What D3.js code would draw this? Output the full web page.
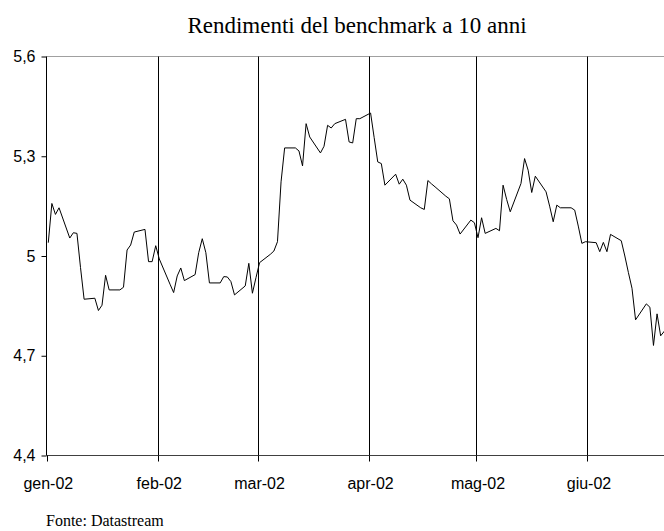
<!DOCTYPE html>
<html>
<head>
<meta charset="utf-8">
<script src="https://cdn.jsdelivr.net/npm/d3@7"></script>
<style>
  html, body { margin: 0; padding: 0; background: #fff; }
  svg { display: block; }
</style>
</head>
<body>
<script>
// ---- data ----
const title = "Rendimenti del benchmark a 10 anni";
const source = "Fonte: Datastream";

const dates = [
  "2002-01-01","2002-01-02","2002-01-03","2002-01-04","2002-01-07","2002-01-08","2002-01-09","2002-01-10","2002-01-11",
  "2002-01-14","2002-01-15","2002-01-16","2002-01-17","2002-01-18","2002-01-21","2002-01-22","2002-01-23","2002-01-24","2002-01-25",
  "2002-01-28","2002-01-29","2002-01-30","2002-01-31","2002-02-01",
  "2002-02-04","2002-02-05","2002-02-06","2002-02-07","2002-02-08","2002-02-11","2002-02-12","2002-02-13","2002-02-14","2002-02-15",
  "2002-02-18","2002-02-19","2002-02-20","2002-02-21","2002-02-22","2002-02-25","2002-02-26","2002-02-27","2002-02-28","2002-03-01",
  "2002-03-04","2002-03-05","2002-03-06","2002-03-07","2002-03-08","2002-03-11","2002-03-12","2002-03-13","2002-03-14","2002-03-15",
  "2002-03-18","2002-03-19","2002-03-20","2002-03-21","2002-03-22","2002-03-25","2002-03-26","2002-03-27","2002-03-28","2002-03-29",
  "2002-04-01","2002-04-02","2002-04-03","2002-04-04","2002-04-05","2002-04-08","2002-04-09","2002-04-10","2002-04-11","2002-04-12",
  "2002-04-15","2002-04-16","2002-04-17","2002-04-18","2002-04-19","2002-04-22","2002-04-23","2002-04-24","2002-04-25","2002-04-26",
  "2002-04-29","2002-04-30","2002-05-01","2002-05-02","2002-05-03","2002-05-06","2002-05-07","2002-05-08","2002-05-09","2002-05-10",
  "2002-05-13","2002-05-14","2002-05-15","2002-05-16","2002-05-17","2002-05-20","2002-05-21","2002-05-22","2002-05-23","2002-05-24",
  "2002-05-27","2002-05-28","2002-05-29","2002-05-30","2002-05-31","2002-06-03","2002-06-04","2002-06-05","2002-06-06","2002-06-07",
  "2002-06-10","2002-06-11","2002-06-12","2002-06-13","2002-06-14","2002-06-17","2002-06-18","2002-06-19","2002-06-20","2002-06-21",
  "2002-06-24"
];
const yields = [
  5.040,5.158,5.125,5.145,5.054,5.070,5.068,4.965,4.870,
  4.873,4.836,4.852,4.942,4.898,4.898,4.906,5.018,5.033,5.072,
  5.080,4.983,4.983,5.031,4.991,
  4.915,4.890,4.940,4.964,4.926,4.944,5.010,5.052,5.010,4.919,
  4.919,4.938,4.937,4.923,4.883,4.910,4.978,4.888,4.935,4.980,
  5.005,5.015,5.043,5.223,5.325,5.325,5.316,5.271,5.398,5.358,
  5.310,5.330,5.393,5.385,5.398,5.411,5.343,5.340,5.413,5.413,
  5.430,5.356,5.283,5.278,5.213,5.246,5.216,5.231,5.213,5.168,
  5.145,5.140,5.227,5.217,5.208,5.180,5.172,5.106,5.093,5.066,
  5.108,5.100,5.055,5.115,5.068,5.083,5.076,5.213,5.170,5.133,
  5.218,5.293,5.258,5.191,5.240,5.193,5.150,5.103,5.153,5.145,
  5.145,5.138,5.090,5.038,5.043,5.040,5.013,5.041,5.013,5.065,
  5.046,5.000,4.950,4.903,4.808,4.856,4.846,4.731,4.826,4.760,
  4.800
];
const monthStarts = ["2002-01-01","2002-02-01","2002-03-01","2002-04-01","2002-05-01","2002-06-01"];
const monthLabels = ["gen-02","feb-02","mar-02","apr-02","mag-02","giu-02"];
const yTicks = [4.4, 4.7, 5.0, 5.3, 5.6];
const yTickLabels = ["4,4","4,7","5","5,3","5,6"];
const xDomain = ["2002-01-01","2002-06-22"];
const yDomain = [4.4, 5.6];

// ---- layout ----
const W = 664, H = 531;
const plotLeft = 46.5, plotTop = 56.5, plotBottom = 455.5, plotRight = 664;
const pxPerDay = 3.581;

const parse = d3.utcParse("%Y-%m-%d");
const HALF_DAY = 12 * 3600 * 1000;

const x0 = parse(xDomain[0]), x1 = parse(xDomain[1]);
const nDays = (x1 - x0) / 86400000;
const x = d3.scaleUtc().domain([x0, x1]).range([plotLeft, plotLeft + nDays * pxPerDay]);
const y = d3.scaleLinear().domain(yDomain).range([plotBottom, plotTop]);

const svg = d3.select("body").append("svg").attr("width", W).attr("height", H);

svg.append("defs").append("clipPath").attr("id", "plotclip")
  .append("rect").attr("x", plotLeft).attr("y", plotTop - 2)
  .attr("width", plotRight - plotLeft).attr("height", plotBottom - plotTop + 4);

// title
svg.append("text")
  .attr("x", 357).attr("y", 33)
  .attr("text-anchor", "middle")
  .attr("font-family", "'Liberation Serif', 'Times New Roman', serif")
  .attr("font-size", 23)
  .attr("fill", "#000")
  .text(title);

// top border of plot
svg.append("line")
  .attr("x1", plotLeft).attr("x2", plotRight).attr("y1", plotTop).attr("y2", plotTop)
  .attr("stroke", "#a0a0a0").attr("stroke-width", 1);

// month gridlines
const months = monthStarts.map(parse);
svg.append("g").selectAll("line").data(months.slice(1)).join("line")
  .attr("x1", d => Math.round(x(d)) + 0.5).attr("x2", d => Math.round(x(d)) + 0.5)
  .attr("y1", plotTop).attr("y2", plotBottom)
  .attr("stroke", "#000").attr("stroke-width", 1);

// x axis (ticks at month starts, labels centred on first day)
const xAxisG = svg.append("g").attr("transform", `translate(0,${plotBottom})`);
xAxisG.call(d3.axisBottom(x).tickValues(months).tickSize(6).tickFormat(() => ""));
xAxisG.select(".domain").attr("d", `M${plotLeft},0H${plotRight}`).attr("stroke", "#404040");
xAxisG.selectAll(".tick").attr("transform", d => `translate(${Math.round(x(d)) + 0.5},0)`);
xAxisG.selectAll(".tick line").attr("stroke", "#000");

svg.append("g").selectAll("text").data(months).join("text")
  .attr("x", d => x(new Date(+d + HALF_DAY)))
  .attr("y", 489)
  .attr("text-anchor", "middle")
  .attr("font-family", "'Liberation Sans', Arial, sans-serif")
  .attr("font-size", 16)
  .attr("fill", "#000")
  .text((d, i) => monthLabels[i]);

// y axis
const yAxisG = svg.append("g").attr("transform", `translate(${plotLeft},0)`);
yAxisG.call(d3.axisLeft(y).tickValues(yTicks).tickSize(5).tickPadding(6)
  .tickFormat((d, i) => yTickLabels[i]));
yAxisG.select(".domain").attr("d", `M0,${plotTop}V${plotBottom}`).attr("stroke", "#000");
yAxisG.selectAll(".tick line").attr("stroke", "#000");
yAxisG.selectAll(".tick text")
  .attr("font-family", "'Liberation Sans', Arial, sans-serif")
  .attr("font-size", 16)
  .attr("fill", "#000");

// series line
const data = dates.map((d, i) => ({ date: new Date(+parse(d) + HALF_DAY), v: yields[i] }));
svg.append("path")
  .datum(data)
  .attr("clip-path", "url(#plotclip)")
  .attr("fill", "none")
  .attr("stroke", "#000")
  .attr("stroke-width", 1)
  .attr("d", d3.line().x(d => x(d.date)).y(d => y(d.v)));

// source note
svg.append("text")
  .attr("x", 46).attr("y", 526)
  .attr("font-family", "'Liberation Serif', 'Times New Roman', serif")
  .attr("font-size", 16)
  .attr("fill", "#000")
  .text(source);
</script>
</body>
</html>
